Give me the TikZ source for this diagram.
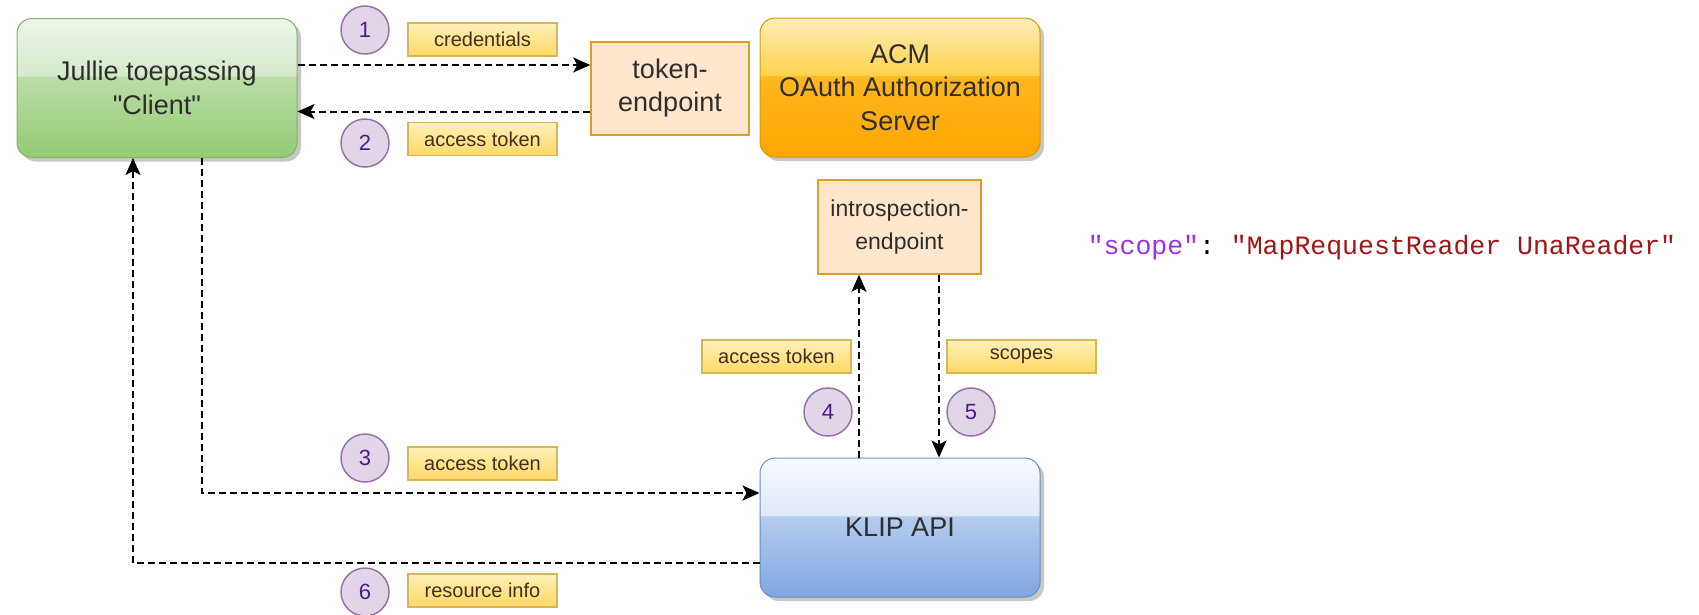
\documentclass[tikz,border=0pt]{standalone}
\usepackage{fontspec}
\setmainfont{Liberation Sans}[Ligatures=TeXOff]
\newfontfamily\codefont{Liberation Mono}[Ligatures=TeXOff,PunctuationSpace=WordSpace]
\usetikzlibrary{arrows.meta,shadows}

\definecolor{textgray}{HTML}{2E2E2E}
\definecolor{clTop}{HTML}{EEF6EB}
\definecolor{clHi}{HTML}{D5EACB}
\definecolor{clLo}{HTML}{BADDA6}
\definecolor{clBot}{HTML}{95CA74}
\definecolor{clLine}{HTML}{82B366}
\definecolor{acTop}{HTML}{FFEDB8}
\definecolor{acHi}{HTML}{FFD24D}
\definecolor{acLo}{HTML}{FFB820}
\definecolor{acBot}{HTML}{FFA500}
\definecolor{acLine}{HTML}{D79B00}
\definecolor{klTop}{HTML}{F6F9FE}
\definecolor{klHi}{HTML}{DFE9F8}
\definecolor{klLo}{HTML}{B5CCEE}
\definecolor{klBot}{HTML}{7EA6E0}
\definecolor{klLine}{HTML}{6C8EBF}
\definecolor{epFill}{HTML}{FFE6CC}
\definecolor{epLine}{HTML}{DBA020}
\definecolor{lbTop}{HTML}{FFF0B8}
\definecolor{lbBot}{HTML}{FFD966}
\definecolor{lbLine}{HTML}{D6B656}
\definecolor{lbText}{HTML}{40301A}
\definecolor{nmFill}{HTML}{E1D5E7}
\definecolor{nmLine}{HTML}{9673A6}
\definecolor{nmText}{HTML}{4C1A8C}
\definecolor{jsonKey}{HTML}{9B30E8}
\definecolor{jsonStr}{HTML}{A31515}

% glass look: light top part, sharp edge, darker bottom
\pgfdeclareverticalshading{clientglass}{100bp}{color(0bp)=(clBot); color(25bp)=(clBot); color(54bp)=(clLo); color(54.5bp)=(clHi); color(75bp)=(clTop); color(100bp)=(clTop)}
\pgfdeclareverticalshading{acmglass}{100bp}{color(0bp)=(acBot); color(25bp)=(acBot); color(54bp)=(acLo); color(54.5bp)=(acHi); color(75bp)=(acTop); color(100bp)=(acTop)}
\pgfdeclareverticalshading{klipglass}{100bp}{color(0bp)=(klBot); color(25bp)=(klBot); color(54bp)=(klLo); color(54.5bp)=(klHi); color(75bp)=(klTop); color(100bp)=(klTop)}

\begin{document}
\begin{tikzpicture}[x=1pt,y=-1pt,->,>={Stealth[length=17pt,width=15pt,inset=4pt]},
  glass node/.style={rounded corners=15pt,minimum width=280pt,minimum height=139pt,
    inner sep=0pt,align=center,text=textgray,line width=1pt,
    font=\fontsize{27}{33.5}\selectfont,
    drop shadow={shadow xshift=4pt,shadow yshift=-4pt,fill=black!55,opacity=.4}},
  endpoint node/.style={fill=epFill,draw=epLine,line width=1.5pt,inner sep=0pt,
    align=center,text=textgray},
  label node/.style={top color=lbTop,bottom color=lbBot,draw=lbLine,line width=1.2pt,
    minimum width=149pt,minimum height=33pt,inner sep=0pt,text=lbText,
    font=\fontsize{20}{24}\selectfont},
  num node/.style={circle,fill=nmFill,draw=nmLine,line width=1.5pt,minimum size=48pt,
    inner sep=0pt,text=nmText,font=\fontsize{22}{26}\selectfont},
  flow/.style={draw=black,line width=2pt,dash pattern=on 7pt off 4pt}]

\useasboundingbox (0,0) rectangle (1699,614);

% Main boxes
  \node[glass node,shading=clientglass,draw=clLine] (client) at (157,88) {Jullie toepassing\\"Client"};
  \node[glass node,shading=acmglass,draw=acLine] (acm) at (900,87.5) {ACM\\OAuth Authorization\\Server};
  \node[glass node,shading=klipglass,draw=klLine] (klip) at (900,527.5) {KLIP API};

% endpoints
  \node[endpoint node,minimum width=158pt,minimum height=93pt,
    font=\fontsize{27}{33}\selectfont] (tokenep) at (670,88.5) {token-\\endpoint};
  \node[endpoint node,minimum width=163pt,minimum height=94pt,
    font=\fontsize{23}{33}\selectfont] (introep) at (899.5,227) {introspection-\\endpoint};

% flows
  \draw[flow] ([yshift=23pt]client.east) -- ([yshift=23pt]client.east -| tokenep.west);
  \draw[flow] ([yshift=-23pt]tokenep.west) -- ([yshift=-23pt]tokenep.west -| client.east);
  \draw[flow] ([xshift=45pt]client.south) |- ([yshift=34.5pt]klip.west);
  \draw[flow] ([xshift=-41pt]klip.north) -- ([xshift=-41pt]klip.north |- introep.south);
  \draw[flow] ([xshift=39.5pt]introep.south) -- ([xshift=39.5pt]introep.south |- klip.north);
  \draw[flow] ([yshift=-35.5pt]klip.west) -| ([xshift=-24pt]client.south);

% labels on the flows
  \node[label node] (lcred) at (482.5,39.5) {credentials};
  \node[label node] (ltoken) at (482.5,139) {access token};
  \node[label node] (lcall) at (482.5,463.5) {access token};
  \node[label node] (lcheck) at (776.5,356.5) {access token};
  \node[label node] (lscopes) at (1021.5,356.5) {scopes};
  \node[label node] (lres) at (482.5,590.5) {resource info};

% step numbers
  \node[num node] (n1) at (365,30) {1};
  \node[num node] (n2) at (365,143) {2};
  \node[num node] (n3) at (365,458) {3};
  \node[num node] (n4) at (828,412) {4};
  \node[num node] (n5) at (971,412) {5};
  \node[num node] (n6) at (365,592) {6};

% token info
  \node[inner sep=0pt,font=\codefont\fontsize{26.5}{30}\selectfont] (scopeline) at (1382,248)
    {\frenchspacing\textcolor{jsonKey}{"scope"}: \textcolor{jsonStr}{"MapRequestReader UnaReader"}};

\end{tikzpicture}
\end{document}
